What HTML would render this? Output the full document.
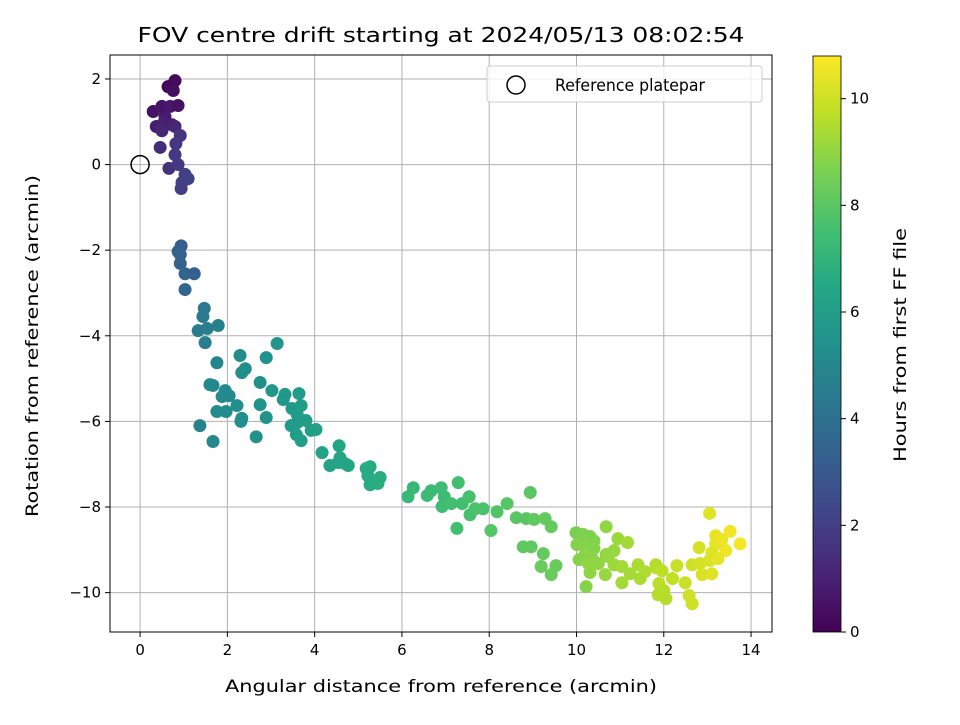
<!DOCTYPE html>
<html><head><meta charset="utf-8"><style>
html,body{margin:0;padding:0;background:#fff}
text{font-family:"DejaVu Sans","Liberation Sans",sans-serif;fill:#000}
</style></head><body>
<svg id="chart" width="960" height="720" xmlns="http://www.w3.org/2000/svg">
<defs><linearGradient id="vir" x1="0" y1="1" x2="0" y2="0">
<stop offset="0" stop-color="#440154"/><stop offset="0.1" stop-color="#482475"/><stop offset="0.2" stop-color="#414487"/><stop offset="0.3" stop-color="#355f8d"/><stop offset="0.4" stop-color="#2a788e"/><stop offset="0.5" stop-color="#21918c"/><stop offset="0.6" stop-color="#22a884"/><stop offset="0.7" stop-color="#44bf70"/><stop offset="0.8" stop-color="#7ad151"/><stop offset="0.9" stop-color="#bddf26"/><stop offset="1" stop-color="#fde725"/></linearGradient></defs>
<g id="grid"></g>
<g id="pts"></g>
<rect x="110" y="55" width="662" height="577" fill="none" stroke="#000" stroke-width="1"/>
<g id="axes"></g>
<text x="441" y="42" font-size="20" text-anchor="middle" textLength="607" lengthAdjust="spacingAndGlyphs">FOV centre drift starting at 2024/05/13 08:02:54</text>
<text x="441" y="692" font-size="17" text-anchor="middle" textLength="432" lengthAdjust="spacingAndGlyphs">Angular distance from reference (arcmin)</text>
<text transform="translate(38,346) rotate(-90)" font-size="17" text-anchor="middle" textLength="342" lengthAdjust="spacingAndGlyphs">Rotation from reference (arcmin)</text>
<g>
<rect x="487" y="66" width="275" height="36" rx="3" fill="#fff" fill-opacity="0.8" stroke="#ccc"/>
<circle cx="516" cy="85" r="9" fill="none" stroke="#000" stroke-width="1.5"/>
<text x="555" y="91" font-size="17" textLength="150" lengthAdjust="spacingAndGlyphs">Reference platepar</text>
</g>
<rect x="813" y="56" width="28" height="576" fill="url(#vir)" stroke="#000" stroke-width="0.8"/>
<g id="cbticks"></g>
<text transform="translate(906,345) rotate(-90)" font-size="17" text-anchor="middle" textLength="234" lengthAdjust="spacingAndGlyphs">Hours from first FF file</text>
</svg>
<script>
const xTicks=[0,2,4,6,8,10,12,14];
const yTicks=[2,0,-2,-4,-6,-8,-10];
const cbTicks=[0,2,4,6,8,10];
const xs=[0.8,0.64,0.76,0.3,0.5,0.69,0.87,0.57,0.37,0.53,0.73,0.5,0.8,0.92,0.82,0.46,0.8,0.66,0.87,1.03,1.1,0.94,0.96,
0.94,0.87,0.92,1.03,1.24,1.03,0.92,
1.47,1.44,1.33,1.54,1.79,1.49,3.14,1.76,2.29,2.89,2.41,2.33,2.75,1.6,1.67,1.95,1.88,2.04,3.02,3.32,3.28,3.64,2.75,2.22,3.69,3.48,3.6,1.76,1.97,2.89,2.33,3.6,3.8,3.46,1.37,2.31,3.58,3.69,1.67,2.66,4.03,3.92,4.17,4.56,4.35,4.58,4.7,4.54,4.77,5.18,5.27,5.22,5.5,5.27,5.45,
6.14,6.26,6.58,6.67,6.9,6.97,6.92,7.13,7.29,7.38,7.54,7.26,7.56,7.68,7.86,8.18,8.41,8.04,8.62,8.94,8.85,9.03,9.28,9.42,8.78,8.96,9.24,9.19,9.42,9.53,
9.99,10.08,10.15,10.31,10.4,10.01,10.2,10.4,10.2,10.36,10.06,10.27,10.5,10.31,10.66,10.22,10.68,10.86,10.73,10.68,10.95,11.17,10.86,11.04,11.23,11.04,11.41,11.57,11.46,11.83,11.82,11.89,11.96,12.0,12.05,11.87,12.2,12.3,12.49,12.58,12.65,12.65,12.83,12.81,12.88,13.1,13.05,13.19,13.19,13.33,13.52,13.75,13.42,13.1,13.05,13.24];
const ys=[1.96,1.82,1.73,1.24,1.36,1.36,1.38,1.12,0.89,0.96,0.93,0.79,0.89,0.68,0.49,0.4,0.23,-0.09,0,-0.23,-0.33,-0.56,-0.42,
-1.9,-2.03,-2.31,-2.55,-2.55,-2.92,-2.1,
-3.36,-3.55,-3.88,-3.83,-3.76,-4.16,-4.18,-4.63,-4.46,-4.51,-4.77,-4.86,-5.09,-5.14,-5.16,-5.28,-5.42,-5.4,-5.28,-5.37,-5.49,-5.35,-5.61,-5.63,-5.63,-5.7,-5.84,-5.77,-5.77,-5.91,-5.93,-6.03,-5.98,-6.1,-6.1,-6.0,-6.31,-6.45,-6.47,-6.36,-6.19,-6.21,-6.73,-6.57,-7.03,-6.85,-6.99,-6.96,-7.03,-7.1,-7.06,-7.27,-7.31,-7.48,-7.45,
-7.76,-7.55,-7.73,-7.62,-7.55,-7.76,-7.99,-7.92,-7.43,-7.92,-7.76,-8.5,-8.18,-8.04,-8.04,-8.11,-7.92,-8.55,-8.25,-7.66,-8.27,-8.29,-8.27,-8.46,-8.93,-8.93,-9.09,-9.39,-9.58,-9.37,
-8.6,-8.74,-8.64,-8.69,-8.79,-8.88,-8.93,-8.97,-9.11,-9.21,-9.23,-9.32,-9.32,-9.53,-9.58,-9.86,-9.11,-9.02,-9.16,-8.46,-8.74,-8.83,-9.35,-9.39,-9.56,-9.77,-9.35,-9.51,-9.67,-9.42,-9.35,-9.79,-9.49,-9.95,-10.14,-10.05,-9.67,-9.37,-9.77,-10.07,-10.26,-9.35,-9.32,-8.95,-9.58,-9.56,-8.15,-8.86,-8.67,-8.76,-8.57,-8.86,-9.02,-9.07,-9.25,-9.21];
const hours=[0.3,0.2,0.4,0.5,0.6,0.7,0.5,0.8,0.9,1.0,0.9,1.1,1.2,1.6,1.7,1.4,1.8,1.5,1.8,2.0,2.1,2.0,2.0,
3.2,3.3,3.4,3.5,3.3,3.6,3.4,
4.3,4.4,4.5,4.6,4.7,4.6,5.6,4.9,5.2,5.4,5.2,5.3,5.4,5.0,5.0,5.1,5.1,5.1,5.7,5.8,5.7,5.9,5.4,5.3,5.9,5.8,5.9,5.2,5.2,5.5,5.3,5.9,6.0,5.9,4.8,5.3,6.0,6.0,5.0,5.4,6.1,6.1,6.2,6.3,6.3,6.3,6.4,6.3,6.4,6.6,6.6,6.6,6.7,6.6,6.7,
7.2,7.2,7.3,7.3,7.4,7.4,7.4,7.5,7.5,7.5,7.6,7.5,7.6,7.7,7.7,7.8,7.9,7.9,8.0,8.0,8.0,8.1,8.2,8.2,8.1,8.1,8.2,8.3,8.3,8.3,
8.6,8.6,8.7,8.7,8.7,8.8,8.8,8.8,8.9,8.9,8.8,9.0,9.0,9.0,9.1,8.8,9.0,9.1,9.1,9.0,9.2,9.3,9.2,9.3,9.3,9.3,9.4,9.5,9.4,9.6,9.6,9.7,9.7,9.6,9.6,9.6,9.8,9.9,9.9,10.0,10.0,10.0,10.1,10.1,10.2,10.3,10.3,10.4,10.4,10.5,10.6,10.7,10.6,10.3,10.2,10.4];
const NS='http://www.w3.org/2000/svg';
const X0=110,X1=772,Y0=55,Y1=632;
const xMin=-0.69,xMax=14.48,yMin=-10.92,yMax=2.56,hMax=10.8;
function sx(v){return X0+(v-xMin)/(xMax-xMin)*(X1-X0);}
function sy(v){return Y1-(v-yMin)/(yMax-yMin)*(Y1-Y0);}
function cy(v){return 632-v/hMax*576;}
const stops=[[68,1,84],[72,36,117],[65,68,135],[53,95,141],[42,120,142],[33,145,140],[34,168,132],[68,191,112],[122,209,81],[189,223,38],[253,231,37]];
function vir(t){t=Math.max(0,Math.min(1,t))*10;const i=Math.min(9,Math.floor(t)),f=t-i;const a=stops[i],b=stops[i+1];
return 'rgb('+a.map((c,k)=>Math.round(c+(b[k]-c)*f)).join(',')+')';}
function mk(tag,at,parent){const e=document.createElementNS(NS,tag);for(const k in at)e.setAttribute(k,at[k]);parent.appendChild(e);return e;}
const grid=document.getElementById('grid'),axes=document.getElementById('axes'),pts=document.getElementById('pts'),cb=document.getElementById('cbticks');
const fmt=v=>String(v).replace('-','\u2212');
xTicks.forEach(v=>{const x=sx(v);
const g=mk('line',{x1:x,x2:x,y1:Y0,y2:Y1,stroke:'#b0b0b0','stroke-width':1},grid);

mk('line',{x1:x,x2:x,y1:Y1,y2:Y1+5,stroke:'#000'},axes);
const t=mk('text',{x:x,y:Y1+23,'font-size':15,'text-anchor':'middle'},axes);t.textContent=fmt(v);
});
yTicks.forEach(v=>{const y=sy(v);
const g=mk('line',{x1:X0,x2:X1,y1:y,y2:y,stroke:'#b0b0b0','stroke-width':1},grid);

mk('line',{x1:X0-5,x2:X0,y1:y,y2:y,stroke:'#000'},axes);
const t=mk('text',{x:X0-9,y:y+5,'font-size':15,'text-anchor':'end'},axes);t.textContent=fmt(v);
});
cbTicks.forEach(v=>{const y=cy(v);
mk('line',{x1:841,x2:846,y1:y,y2:y,stroke:'#000'},cb);
const t=mk('text',{x:850,y:y+5,'font-size':15},cb);t.textContent=v;
});
xs.forEach((v,i)=>{const c=mk('circle',{cx:sx(v),cy:sy(ys[i]),r:6.5,fill:vir(hours[i]/hMax)},pts);
});
const ref=mk('circle',{cx:sx(0),cy:sy(0),r:9,fill:'none',stroke:'#000','stroke-width':1.5},pts);


</script>
</body></html>
